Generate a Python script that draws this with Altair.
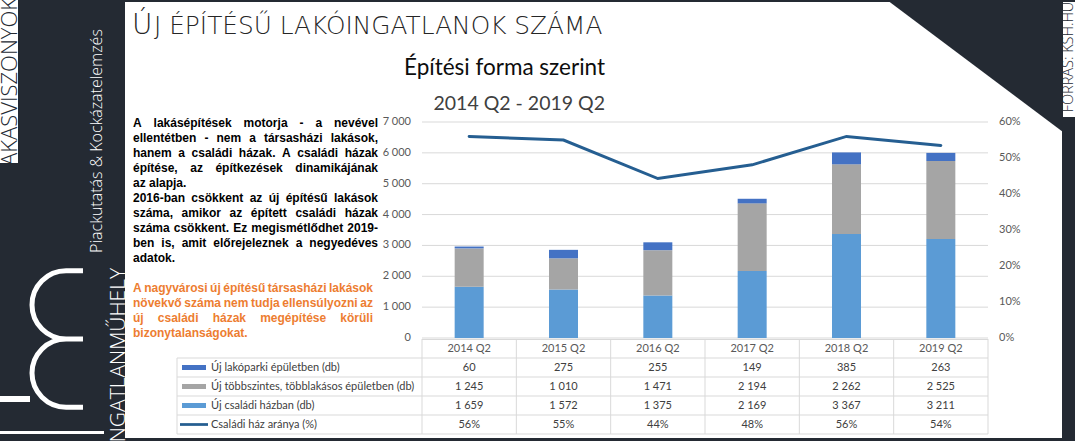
import altair as alt
import pandas as pd

# ---------------- data ----------------
quarters = ["2014 Q2", "2015 Q2", "2016 Q2", "2017 Q2", "2018 Q2", "2019 Q2"]
lakopark = [60, 275, 255, 149, 385, 263]
tobbszintes = [1245, 1010, 1471, 2194, 2262, 2525]
csaladi = [1659, 1572, 1375, 2169, 3367, 3211]
arany = [0.560, 0.550, 0.443, 0.481, 0.560, 0.535]

s_lak = "Új lakóparki épületben (db)"
s_tob = "Új többszintes, többlakásos épületben (db)"
s_csa = "Új családi házban (db)"
s_ar = "Családi ház aránya (%)"
series_names = [s_lak, s_tob, s_csa, s_ar]
series_colors = ["#4472C4", "#A5A5A5", "#5B9BD5", "#255E91"]

left_ticks = [0, 1000, 2000, 3000, 4000, 5000, 6000, 7000]
right_ticks = [0, 0.1, 0.2, 0.3, 0.4, 0.5, 0.6]

para_black = [
    "A lakásépítések motorja - a nevével",
    "ellentétben - nem a társasházi lakások,",
    "hanem a családi házak. A családi házak",
    "építése, az építkezések dinamikájának",
    "az alapja.",
    "2016-ban csökkent az új építésű lakások",
    "száma, amikor az épített családi házak",
    "száma csökkent. Ez megismétlődhet 2019-",
    "ben is, amit előrejeleznek a negyedéves",
    "adatok.",
]
para_black_last = [4, 9]
para_orange = [
    "A nagyvárosi új építésű társasházi lakások",
    "növekvő száma nem tudja ellensúlyozni az",
    "új családi házak megépítése körüli",
    "bizonytalanságokat.",
]
para_orange_last = [3]

title_first = "Ú"
title_rest = "J ÉPÍTÉSŰ LAKÓINGATLANOK SZÁMA"
subtitle1 = "Építési forma szerint"
subtitle2 = "2014 Q2 - 2019 Q2"
side_top = "LAKÁSVISZONYOK"
side_mid = "Piackutatás & Kockázatelemzés"
side_bottom = "INGATLANMŰHELY"
source = "FORRÁS: KSH.HU"

# ---------------- styles / layout ----------------
DARK = "#242a33"
GRID = "#d9d9d9"
PL, PR = 422, 988          # plot left/right
PB, PT = 338, 122          # plot bottom/top
ROW_TOP, ROW_BOT = 339, 434
FONT_T = "Open Sans"
FONT_H = "DejaVu Sans"
FONT_C = "Lato"
FONT_P = "Liberation Sans"

one = pd.DataFrame({"k": [0]})

# ---------------- tables ----------------
bars_df = pd.DataFrame(
    [dict(q=q, s=s_csa, v=csaladi[i], o=0) for i, q in enumerate(quarters)]
    + [dict(q=q, s=s_tob, v=tobbszintes[i], o=1) for i, q in enumerate(quarters)]
    + [dict(q=q, s=s_lak, v=lakopark[i], o=2) for i, q in enumerate(quarters)]
)
line_df = pd.DataFrame({"q": quarters, "a": arany})


def fmt_int(v):
    return f"{v:,}".replace(",", " ")


row_domain = ["hdr", s_lak, s_tob, s_csa, s_ar]
tab_rows = []
for i, q in enumerate(quarters):
    tab_rows.append(dict(q=q, r="hdr", t=q))
    tab_rows.append(dict(q=q, r=s_lak, t=fmt_int(lakopark[i])))
    tab_rows.append(dict(q=q, r=s_tob, t=fmt_int(tobbszintes[i])))
    tab_rows.append(dict(q=q, r=s_csa, t=fmt_int(csaladi[i])))
    tab_rows.append(dict(q=q, r=s_ar, t=f"{round(arany[i] * 100)}%"))
tab_df = pd.DataFrame(tab_rows)
legend_df = pd.DataFrame({"r": series_names, "s": series_names})

xs = alt.Scale(type="band", domain=quarters, range=[PL, PR], paddingInner=0, paddingOuter=0)
ys = alt.Scale(domain=[0, 7000], range=[PB, PT])
ys2 = alt.Scale(domain=[0, 0.6], range=[PB, PT])
rs = alt.Scale(type="band", domain=row_domain, range=[ROW_TOP, ROW_BOT], paddingInner=0, paddingOuter=0)
cs = alt.Scale(domain=series_names, range=series_colors)

# ---------------- justified paragraph layout (Arial/Liberation Bold metrics) ----------------
AW = {" ": 278, ",": 278, "-": 333, ".": 278}
for c in "0123456789":
    AW[c] = 556
AW.update({"A": 722, "E": 667, "É": 667, "Ú": 722})
AW.update(dict(a=556, b=611, c=556, d=611, e=556, f=333, g=611, h=611, i=278, j=278,
               k=556, l=278, m=889, n=611, o=611, p=611, q=611, r=389, s=556, t=333,
               u=611, v=556, w=778, x=556, y=556, z=500))
AW.update({"á": 556, "é": 556, "í": 278, "ó": 611, "ö": 611, "ő": 611,
           "ú": 611, "ü": 611, "ű": 611})
PSIZE = 12


def tw(s):
    return sum(AW.get(ch, 556) for ch in s) / 1000 * PSIZE


def layout(lines, last, x0, width, y0, lh, color):
    out = []
    for li, line in enumerate(lines):
        words = line.split()
        y = y0 + li * lh
        if li in last or len(words) == 1:
            gap = tw(" ")
        else:
            gap = (width - sum(tw(w) for w in words)) / (len(words) - 1)
        x = x0
        for w in words:
            out.append(dict(w=w, px=x, py=y, c=color))
            x += tw(w) + gap
    return out


words_df = pd.DataFrame(
    layout(para_black, para_black_last, 133, 245, 127, 15, "#000000")
    + layout(para_orange, para_orange_last, 133, 240, 292, 15, "#ED7D31")
)


# ---------------- helpers for decoration ----------------
def rect(x1, x2, y1, y2, color):
    return alt.Chart(one).mark_rect(color=color).encode(
        x=alt.value(x1), x2=alt.value(x2), y=alt.value(y1), y2=alt.value(y2))


def label(text, x, y, **kw):
    return alt.Chart(one).mark_text(text=text, **kw).encode(x=alt.value(x), y=alt.value(y))


def hrule(x1, x2, y):
    return alt.Chart(one).mark_rule(color=GRID, strokeWidth=1).encode(
        x=alt.value(x1), x2=alt.value(x2), y=alt.value(y), y2=alt.value(y))


def vrule(x, y1, y2):
    return alt.Chart(one).mark_rule(color=GRID, strokeWidth=1).encode(
        x=alt.value(x), x2=alt.value(x), y=alt.value(y1), y2=alt.value(y2))


layers = []
# background pieces
layers.append(rect(0, 125, 0, 441, DARK))
layers.append(rect(125, 1075, 0, 2, DARK))
layers.append(rect(0, 1075, 438, 441, DARK))
layers.append(rect(1062, 1075, 117, 441, DARK))
layers.append(
    alt.Chart(one).mark_point(shape="M -1 -0.75 L 1 -0.75 L 1 0.75 Z", size=176 * 176,
                              filled=True, color=DARK, opacity=1, strokeWidth=0)
    .encode(x=alt.value(975), y=alt.value(66)))
layers.append(rect(0, 18, 0, 163, "#ffffff"))
layers.append(label(side_top, 17, -2, angle=270, align="right", baseline="alphabetic",
                    font=FONT_T, fontSize=22, fontWeight=300, color=DARK))
layers.append(label(side_mid, 102, 141, angle=270, align="center", baseline="alphabetic",
                    font=FONT_T, fontSize=16, fontWeight=300, color="#ffffff"))
layers.append(label(side_bottom, 125, 268, angle=270, align="right", baseline="alphabetic",
                    font=FONT_T, fontSize=21, fontWeight=300, color="#ffffff"))
m_path = ("M 0.359 0.96 L 0.121 0.96 A 0.48 0.48 0 0 1 0.121 0 L 0.359 0 "
          "M 0.121 0 A 0.48 0.48 0 0 1 0.121 -0.96 L 0.359 -0.96")
layers.append(
    alt.Chart(one).mark_point(shape=m_path, size=142 * 142, filled=False, stroke="#ffffff",
                              strokeWidth=5, opacity=1)
    .encode(x=alt.value(57.5), y=alt.value(339)))
layers.append(rect(0, 30, 396, 402, "#ffffff"))
layers.append(rect(0, 104, 431, 434, "#ffffff"))
layers.append(label(source, 1073, 57, angle=270, align="center", baseline="alphabetic",
                    font=FONT_T, fontSize=14.5, fontWeight=300, color=DARK))

# titles
layers.append(label(title_first, 132, 34, align="left", baseline="alphabetic",
                    font=FONT_H, fontSize=28, fontWeight=200, color="#262626"))
layers.append(label(title_rest, 154, 34, align="left", baseline="alphabetic",
                    font=FONT_H, fontSize=24.8, fontWeight=200, color="#262626"))
layers.append(label(subtitle1, 605, 75, align="right", baseline="alphabetic",
                    font=FONT_C, fontSize=22.5, color="#0d0d0d"))
layers.append(label(subtitle2, 605, 110, align="right", baseline="alphabetic",
                    font=FONT_C, fontSize=19.5, color="#404040"))

# paragraph
layers.append(
    alt.Chart(words_df).mark_text(align="left", baseline="alphabetic", font=FONT_P,
                                  fontSize=PSIZE, fontWeight="bold")
    .encode(x=alt.X("px:Q", scale=None), y=alt.Y("py:Q", scale=None),
            text="w:N", color=alt.Color("c:N", scale=None)))

# gridlines + axis labels
tick_df = pd.DataFrame({"v": left_ticks})
rtick_df = pd.DataFrame({"v": right_ticks})
layers.append(
    alt.Chart(tick_df).mark_rule(color=GRID, strokeWidth=1)
    .encode(y=alt.Y("v:Q", scale=ys, axis=None), x=alt.value(PL), x2=alt.value(PR)))
layers.append(
    alt.Chart(tick_df).transform_calculate(t="replace(format(datum.v, ','), ',', ' ')")
    .mark_text(align="right", baseline="middle", font=FONT_C, fontSize=11, color="#595959")
    .encode(y=alt.Y("v:Q", scale=ys, axis=None), x=alt.value(411), text="t:N"))
layers.append(
    alt.Chart(rtick_df).transform_calculate(t="format(datum.v, '.0%')")
    .mark_text(align="left", baseline="middle", font=FONT_C, fontSize=11, color="#595959")
    .encode(y=alt.Y("v:Q", scale=ys2, axis=None), x=alt.value(999), text="t:N"))

# bars
layers.append(
    alt.Chart(bars_df).mark_bar(width=29)
    .encode(x=alt.X("q:N", scale=xs, axis=None),
            y=alt.Y("v:Q", scale=ys, axis=None, stack="zero"),
            color=alt.Color("s:N", scale=cs, legend=None),
            order=alt.Order("o:Q")))

# line
layers.append(
    alt.Chart(line_df).mark_line(color="#255E91", strokeWidth=3, strokeCap="round")
    .encode(x=alt.X("q:N", scale=xs, axis=None, bandPosition=0.5),
            y=alt.Y("a:Q", scale=ys2, axis=None)))

# table grid
q_df = pd.DataFrame({"q": quarters})
rows_df = pd.DataFrame({"r": row_domain[1:]})
layers.append(hrule(PL, PR, ROW_TOP + 0.5))
layers.append(
    alt.Chart(rows_df).mark_rule(color=GRID, strokeWidth=1)
    .encode(y=alt.Y("r:N", scale=rs, axis=None, bandPosition=0), x=alt.value(177), x2=alt.value(PR)))
layers.append(hrule(177, PR, ROW_BOT))
layers.append(
    alt.Chart(q_df).mark_rule(color=GRID, strokeWidth=1)
    .encode(x=alt.X("q:N", scale=xs, axis=None, bandPosition=0),
            y=alt.value(ROW_TOP), y2=alt.value(ROW_BOT)))
layers.append(vrule(PR, ROW_TOP, ROW_BOT))
layers.append(vrule(177, ROW_TOP + 19, ROW_BOT))

# table text
layers.append(
    alt.Chart(tab_df).transform_filter("datum.r == 'hdr'")
    .mark_text(align="center", baseline="middle", font=FONT_C, fontSize=11, color="#595959")
    .encode(x=alt.X("q:N", scale=xs, axis=None, bandPosition=0.5),
            y=alt.Y("r:N", scale=rs, axis=None, bandPosition=0.5), text="t:N"))
layers.append(
    alt.Chart(tab_df).transform_filter("datum.r != 'hdr'")
    .mark_text(align="center", baseline="middle", font=FONT_C, fontSize=11, color="#404040")
    .encode(x=alt.X("q:N", scale=xs, axis=None, bandPosition=0.5),
            y=alt.Y("r:N", scale=rs, axis=None, bandPosition=0.5), text="t:N"))

# table legend column
layers.append(
    alt.Chart(legend_df).transform_filter(f"datum.s != '{s_ar}'")
    .mark_rule(strokeWidth=5)
    .encode(y=alt.Y("r:N", scale=rs, axis=None, bandPosition=0.5),
            x=alt.value(182), x2=alt.value(206),
            color=alt.Color("s:N", scale=cs, legend=None)))
layers.append(
    alt.Chart(legend_df).transform_filter(f"datum.s == '{s_ar}'")
    .mark_rule(strokeWidth=2.75)
    .encode(y=alt.Y("r:N", scale=rs, axis=None, bandPosition=0.5),
            x=alt.value(180), x2=alt.value(208),
            color=alt.Color("s:N", scale=cs, legend=None)))
layers.append(
    alt.Chart(legend_df)
    .mark_text(align="left", baseline="middle", font=FONT_C, fontSize=11, color="#404040")
    .encode(y=alt.Y("r:N", scale=rs, axis=None, bandPosition=0.5),
            x=alt.value(211), text="s:N"))

chart = (
    alt.layer(*layers)
    .resolve_scale(x="independent", y="independent")
    .properties(width=1075, height=441, padding=0,
                autosize=alt.AutoSizeParams(type="none"), background="#ffffff")
    .configure_view(stroke=None)
)

chart.save("out.html", embed_options={"renderer": "svg", "actions": False})
